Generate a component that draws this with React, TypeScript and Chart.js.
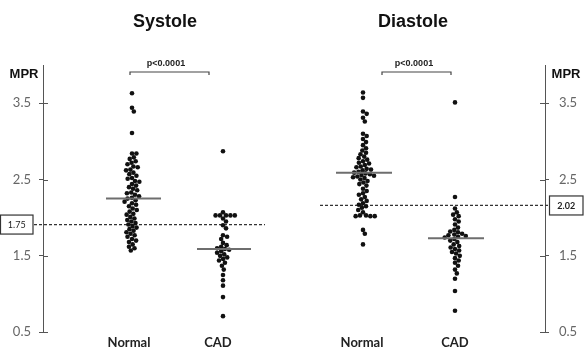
import React, { useEffect, useRef } from "react";
import { Chart, registerables } from "chart.js";
Chart.register(...registerables);

// ---------- data ----------
const PANELS = ["Systole", "Diastole"];
const CATEGORIES = ["Normal", "CAD", "Normal", "CAD"];
const SYS_NORMAL = [3.63, 3.44, 3.39, 3.11, 2.84, 2.84, 2.79, 2.77, 2.74, 2.72, 2.7, 2.67, 2.66, 2.63, 2.62, 2.59, 2.57, 2.55, 2.52, 2.51, 2.48, 2.47, 2.44, 2.42, 2.4, 2.38, 2.36, 2.33, 2.32, 2.3, 2.28, 2.26, 2.25, 2.23, 2.21, 2.19, 2.17, 2.15, 2.12, 2.1, 2.08, 2.05, 2.04, 2.01, 1.99, 1.97, 1.95, 1.93, 1.91, 1.89, 1.87, 1.85, 1.83, 1.81, 1.79, 1.77, 1.75, 1.72, 1.7, 1.68, 1.65, 1.62, 1.6, 1.57];
const SYS_CAD = [2.87, 2.07, 2.03, 2.03, 2.03, 2.03, 2.03, 1.99, 1.95, 1.9, 1.86, 1.77, 1.75, 1.72, 1.67, 1.64, 1.62, 1.6, 1.59, 1.58, 1.56, 1.54, 1.52, 1.5, 1.48, 1.46, 1.44, 1.41, 1.37, 1.32, 1.25, 1.18, 1.11, 0.96, 0.71];
const DIA_NORMAL = [3.64, 3.57, 3.39, 3.36, 3.31, 3.26, 3.1, 3.07, 3.03, 2.99, 2.95, 2.91, 2.88, 2.85, 2.83, 2.8, 2.78, 2.76, 2.74, 2.72, 2.71, 2.69, 2.67, 2.66, 2.64, 2.63, 2.62, 2.6, 2.59, 2.58, 2.57, 2.56, 2.55, 2.54, 2.53, 2.52, 2.5, 2.48, 2.46, 2.44, 2.42, 2.38, 2.35, 2.32, 2.3, 2.27, 2.24, 2.22, 2.19, 2.17, 2.15, 2.13, 2.1, 2.07, 2.03, 2.03, 2.02, 2.02, 2.02, 1.84, 1.79, 1.65];
const DIA_CAD = [3.51, 2.27, 2.12, 2.07, 2.04, 2.02, 1.98, 1.95, 1.91, 1.87, 1.84, 1.82, 1.81, 1.79, 1.78, 1.77, 1.76, 1.75, 1.74, 1.72, 1.7, 1.68, 1.65, 1.63, 1.61, 1.59, 1.57, 1.55, 1.53, 1.5, 1.47, 1.44, 1.41, 1.37, 1.32, 1.27, 1.2, 1.04, 0.78];
const GROUP_MEANS = [2.25, 1.59, 2.59, 1.73];
const CUTOFF_LEVELS = [1.91, 2.16];
const CUTOFF_LABELS = ["1.75", "2.02"];
const P_LABELS = ["p<0.0001", "p<0.0001"];
const Y_TICKS = [0.5, 1.5, 2.5, 3.5];
const AXIS_TITLE = "MPR";

// ---------- layout ----------
const W = 584, H = 350;
const PLOT_LEFT = 43, PLOT_RIGHT = 545, PLOT_TOP = 65, PLOT_BOTTOM = 345;
const Y_MIN = 0.5, Y_MAX = 4.0;
const GROUP_X = [132, 223, 363, 455];
const MEAN_X = [[106, 161], [197, 251], [336, 392], [428, 484]];
const CUTOFF_SPANS = [[34, 265], [320, 549]];
const BRACKETS = [[130, 209], [382, 451]];
const P_TEXT_X = [166, 414];
const TITLE_X = [165, 413];
const CAT_X = [129, 218, 362, 455];
const DOT = 4.4;

const PX_PER_UNIT = (PLOT_BOTTOM - PLOT_TOP) / (Y_MAX - Y_MIN);

function swarm(values: number[], center: number) {
  const placed: { off: number; yp: number; v: number }[] = [];
  const sorted = [...values].sort((a, b) => b - a);
  for (const v of sorted) {
    const yp = v * PX_PER_UNIT;
    const cands = [0];
    for (const p of placed) {
      const dy = Math.abs(p.yp - yp);
      if (dy < DOT) {
        const dx = Math.sqrt(DOT * DOT - dy * dy);
        cands.push(p.off + dx, p.off - dx);
      }
    }
    const ok = cands.filter((c) =>
      placed.every((p) => (p.off - c) ** 2 + (p.yp - yp) ** 2 >= DOT * DOT - 1e-6)
    );
    ok.sort((a, b) => Math.abs(a) - Math.abs(b));
    placed.push({ off: ok[0], yp, v });
  }
  return placed.map((p) => ({ x: center + p.off, y: p.v }));
}

const annotationPlugin = {
  id: "annot",
  afterDraw(chart: any) {
    const ctx = chart.ctx;
    const ys = chart.scales.y;
    ctx.save();
    // inner tick marks
    ctx.strokeStyle = "#555";
    ctx.lineWidth = 1;
    for (const t of Y_TICKS) {
      const py = Math.round(ys.getPixelForValue(t)) + 0.5;
      ctx.beginPath();
      ctx.moveTo(PLOT_LEFT, py);
      ctx.lineTo(PLOT_LEFT + 5, py);
      ctx.moveTo(PLOT_RIGHT - 5, py);
      ctx.lineTo(PLOT_RIGHT, py);
      ctx.stroke();
    }
    // titles
    ctx.fillStyle = "#111";
    ctx.textAlign = "center";
    ctx.textBaseline = "alphabetic";
    ctx.font = "bold 18px 'Liberation Sans', Arial, sans-serif";
    PANELS.forEach((t, i) => ctx.fillText(t, TITLE_X[i], 27));
    // p-values and brackets
    ctx.font = "bold 9px 'Liberation Sans', Arial, sans-serif";
    ctx.fillStyle = "#222";
    P_LABELS.forEach((t, i) => ctx.fillText(t, P_TEXT_X[i], 66));
    ctx.strokeStyle = "#444";
    ctx.lineWidth = 1.2;
    BRACKETS.forEach(([a, b]) => {
      ctx.beginPath();
      ctx.moveTo(a, 75);
      ctx.lineTo(a, 72);
      ctx.lineTo(b, 72);
      ctx.lineTo(b, 75);
      ctx.stroke();
    });
    // axis titles
    ctx.font = "bold 13px 'Liberation Sans', Arial, sans-serif";
    ctx.fillStyle = "#111";
    ctx.fillText(AXIS_TITLE, 24, 78);
    ctx.fillText(AXIS_TITLE, 566, 78);
    // category labels
    ctx.font = "bold 13px Lato, sans-serif";
    ctx.fillStyle = "#222";
    CATEGORIES.forEach((c, i) => ctx.fillText(c, CAT_X[i], 347));
    // cutoff boxes
    ctx.lineWidth = 1.2;
    ctx.strokeStyle = "#333";
    const boxes = [
      [0.5, 33],
      [549.5, 583],
    ];
    CUTOFF_LEVELS.forEach((lv, i) => {
      const py = ys.getPixelForValue(lv);
      const [bx0, bx1] = boxes[i];
      ctx.fillStyle = "#fff";
      ctx.fillRect(bx0, py - 9.5, bx1 - bx0, 19);
      ctx.strokeRect(bx0, py - 9.5, bx1 - bx0, 19);
      ctx.fillStyle = "#222";
      ctx.font = (i === 1 ? "bold " : "") + "9px Lato, sans-serif";
      ctx.textBaseline = "middle";
      ctx.fillText(CUTOFF_LABELS[i], (bx0 + bx1) / 2, py + 0.5);
      ctx.textBaseline = "alphabetic";
    });
    ctx.restore();
  },
};

export default function App() {
  const ref = useRef<HTMLCanvasElement>(null);
  useEffect(() => {
    const groups = [SYS_NORMAL, SYS_CAD, DIA_NORMAL, DIA_CAD];
    const pointSets = groups.map((g, i) => ({
      type: "scatter" as const,
      data: swarm(g, GROUP_X[i]),
      yAxisID: i < 2 ? "y" : "y2",
      pointRadius: 2.3,
      pointBackgroundColor: "#111",
      pointBorderWidth: 0,
      showLine: false,
      order: 2,
    }));
    const meanSets = GROUP_MEANS.map((m, i) => ({
      type: "line" as const,
      data: [
        { x: MEAN_X[i][0], y: m },
        { x: MEAN_X[i][1], y: m },
      ],
      yAxisID: i < 2 ? "y" : "y2",
      borderColor: "#6e6e6e",
      borderWidth: 2,
      pointRadius: 0,
      order: 1,
    }));
    const cutSets = CUTOFF_LEVELS.map((lv, i) => ({
      type: "line" as const,
      data: [
        { x: CUTOFF_SPANS[i][0], y: lv },
        { x: CUTOFF_SPANS[i][1], y: lv },
      ],
      yAxisID: i === 0 ? "y" : "y2",
      borderColor: "#333",
      borderWidth: 1.3,
      borderDash: [3, 2],
      pointRadius: 0,
      clip: false as any,
      order: 3,
    }));
    const yScale = (pos: "left" | "right", width: number, pad: number) => ({
      type: "linear" as const,
      position: pos,
      min: Y_MIN,
      max: Y_MAX,
      afterBuildTicks: (s: any) => {
        s.ticks = Y_TICKS.map((v) => ({ value: v }));
      },
      afterFit: (s: any) => {
        s.width = width;
      },
      grid: { drawOnChartArea: false, drawTicks: true, tickLength: 4, color: "#555", lineWidth: 1 },
      border: { display: true, color: "#555", width: 1 },
      ticks: {
        color: "#666",
        padding: pad,
        font: { family: "Lato, sans-serif", size: 13 },
        callback: (v: any) => Number(v).toFixed(1),
      },
    });
    const chart = new Chart(ref.current!, {
      type: "scatter",
      data: { datasets: [...meanSets, ...pointSets, ...cutSets] as any },
      options: {
        responsive: false,
        animation: false,
        devicePixelRatio: 1,
        layout: { padding: { top: PLOT_TOP, bottom: H - PLOT_BOTTOM, left: 0, right: 0 } },
        plugins: { legend: { display: false }, tooltip: { enabled: false } },
        scales: {
          x: { type: "linear", min: PLOT_LEFT, max: PLOT_RIGHT, display: false },
          y: yScale("left", PLOT_LEFT, 8) as any,
          y2: yScale("right", W - PLOT_RIGHT, 10) as any,
        },
      },
      plugins: [annotationPlugin],
    });
    return () => chart.destroy();
  }, []);
  return (
    <div style={{ position: "fixed", left: 0, top: 0, width: W, height: H, background: "#fff" }}>
      <canvas ref={ref} width={W} height={H} style={{ width: W, height: H }} />
    </div>
  );
}
